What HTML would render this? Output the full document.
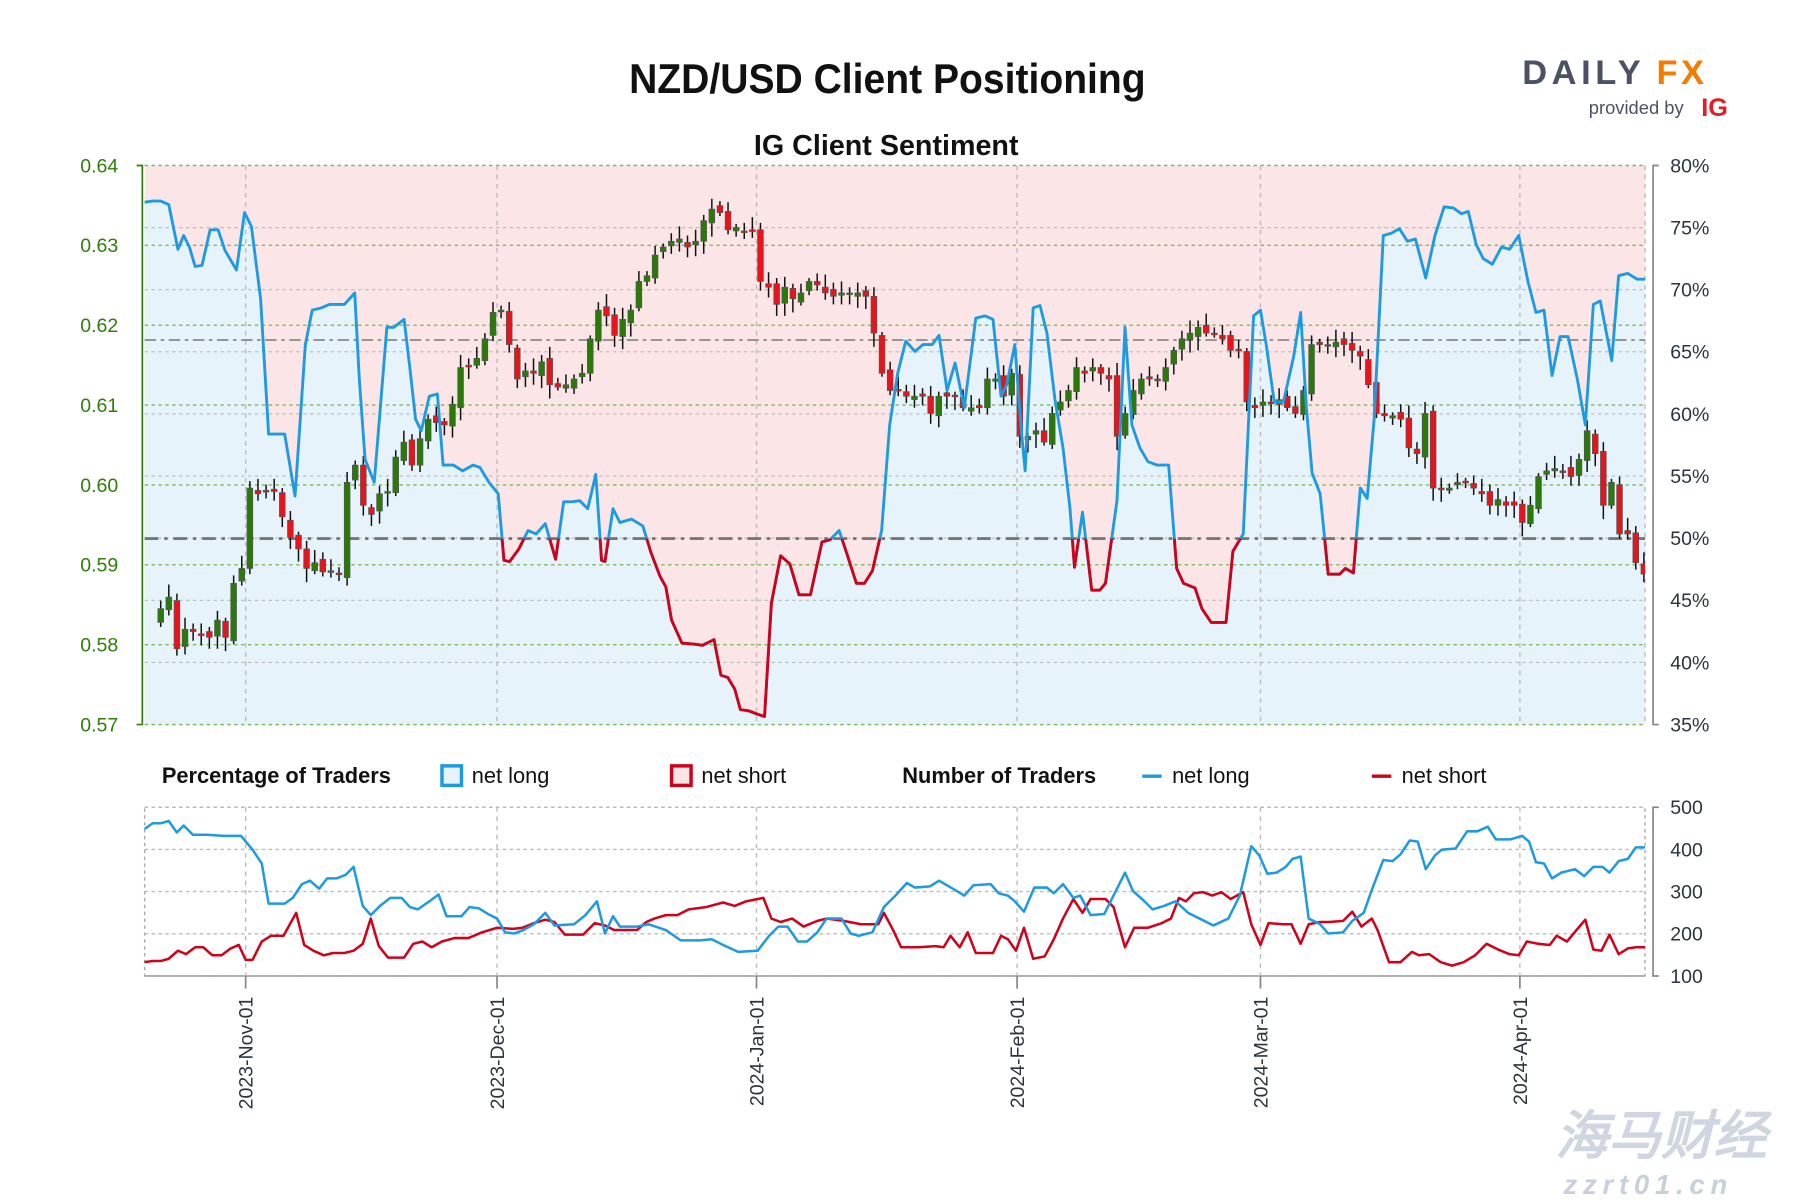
<!DOCTYPE html>
<html><head><meta charset="utf-8"><style>
html,body{margin:0;padding:0;background:#fff;}
svg{display:block;font-family:"Liberation Sans",sans-serif;}
</style></head><body>
<svg id="s" width="1800" height="1200" viewBox="0 0 1568 1045" xmlns="http://www.w3.org/2000/svg">
<defs>
<clipPath id="pc"><rect x="126" y="144" width="1307" height="487"/></clipPath>
<clipPath id="below"><rect x="126" y="469" width="1307" height="170"/></clipPath>
</defs>
<text x="548" y="81" textLength="450" lengthAdjust="spacingAndGlyphs" font-size="36" font-weight="bold" fill="#111" font-family="Liberation Sans Narrow, Liberation Sans, sans-serif">NZD/USD Client Positioning</text>
<text x="772" y="135" text-anchor="middle" font-size="25" font-weight="bold" fill="#111">IG Client Sentiment</text>
<text x="1326" y="73" font-size="30" font-weight="bold" fill="#4a5263" letter-spacing="4">DAILY</text>
<text x="1443" y="73" font-size="30" font-weight="bold" fill="#f57c00" letter-spacing="3">FX</text>
<text x="1384" y="99" font-size="16" fill="#4a5263">provided by</text>
<text x="1482" y="101" font-size="22" font-weight="bold" fill="#e41c23">IG</text>
<g id="main"></g>
<g id="bot"></g>
<text x="1355" y="1005" font-size="46" font-style="italic" font-weight="bold" fill="#c8d0dc" opacity="0.85">海马财经</text>
<text x="1362" y="1040" font-size="24" font-style="italic" font-weight="bold" fill="#c8d0dc" letter-spacing="5">zzrt01.cn</text>
</svg>
<script>
const NS="http://www.w3.org/2000/svg";
function el(p,t,a,txt){const e=document.createElementNS(NS,t);for(const k in a)e.setAttribute(k,a[k]);if(txt!==undefined)e.textContent=txt;p.appendChild(e);return e;}
const M=document.getElementById('main'),B=document.getElementById('bot');
const L=126,R=1433,T=144,BT=631;
el(M,'rect',{x:L,y:T,width:R-L,height:BT-T,fill:'#fbe5e6'});
const S=[[126,176],[133,175],[140,175],[147,178],[155,217],[160,205],[165,215],[170,232],[176,231],[183,200],[190,200],[196,218],[206,235],[213,185],[219,197],[227,260],[234,378],[240,378],[248,378],[257,432],[266,300],[272,270],[280,268],[287,265],[300,265],[309,255],[313,330],[318,400],[326,420],[337,285],[343,285],[352,278],[357,320],[362,365],[367,375],[374,345],[381,343],[386,405],[395,405],[403,410],[412,405],[418,407],[426,420],[434,430],[439,488],[444,489],[452,478],[460,462],[467,465],[475,456],[484,487],[491,437],[498,437],[505,436],[512,443],[519,413],[524,488],[527,489],[534,443],[540,455],[550,452],[560,458],[567,481],[575,502],[580,511],[585,540],[594,560],[605,561],[612,562],[622,557],[628,588],[634,590],[640,600],[645,618],[652,619],[660,622],[666,624],[672,525],[680,484],[688,491],[696,518],[706,518],[716,472],[723,470],[731,462],[738,483],[746,508],[753,508],[760,497],[768,462],[775,370],[782,325],[789,297],[797,306],[804,300],[812,300],[818,292],[825,340],[832,316],[840,355],[850,277],[858,275],[865,278],[872,345],[877,335],[884,300],[890,378],[893,410],[900,268],[906,266],[912,290],[919,348],[926,390],[932,442],[936,494],[943,446],[951,514],[958,514],[963,508],[973,436],[980,285],[986,370],[993,390],[1000,402],[1008,405],[1018,405],[1025,495],[1031,508],[1041,512],[1047,530],[1055,542],[1068,542],[1074,480],[1083,465],[1092,275],[1098,270],[1103,300],[1110,350],[1118,350],[1127,310],[1133,272],[1138,355],[1143,412],[1150,430],[1157,500],[1167,500],[1172,495],[1179,499],[1185,425],[1191,434],[1197,365],[1205,205],[1212,203],[1219,199],[1226,210],[1233,208],[1242,242],[1250,205],[1258,180],[1266,181],[1273,186],[1279,184],[1286,213],[1292,225],[1300,230],[1308,215],[1315,217],[1323,205],[1331,245],[1338,272],[1345,270],[1352,327],[1359,293],[1366,293],[1374,330],[1381,370],[1388,265],[1394,262],[1404,314],[1410,240],[1418,238],[1426,243],[1433,243]];
const pts=S.map(p=>p.join(',')).join(' ');
el(M,'polygon',{points:`${L},${BT} ${pts} ${R},${BT}`,fill:'#e6f3fb'});
for(let p=35;p<=80;p+=5){const y=T+(80-p)/45*(BT-T);el(M,'line',{x1:L,x2:R,y1:y,y2:y,stroke:'#bbb','stroke-width':1,'stroke-dasharray':'3,3'});}
for(let i=0;i<=7;i++){const y=T+i*(BT-T)/7;el(M,'line',{x1:L,x2:R,y1:y,y2:y,stroke:'#7dba5a','stroke-width':1.2,'stroke-dasharray':'3,3'});}
const VX=[214,433,659,886,1098,1324];
VX.forEach(x=>el(M,'line',{x1:x,x2:x,y1:T,y2:BT,stroke:'#bbb','stroke-width':1.2,'stroke-dasharray':'4,4'}));
el(M,'line',{x1:R,x2:R,y1:T,y2:BT,stroke:'#bbb','stroke-width':1.2,'stroke-dasharray':'4,4'});
el(M,'line',{x1:L,x2:R,y1:469,y2:469,stroke:'#777','stroke-width':2.5,'stroke-dasharray':'12,5,3,5'});
el(M,'line',{x1:L,x2:R,y1:296,y2:296,stroke:'#888','stroke-width':1.5,'stroke-dasharray':'10,4,3,4'});
const C=[543,530,520,565,548,550,553,555,540,555,508,495,425,430,427,428,450,468,478,495,490,498,498,500,420,405,440,448,430,428,398,385,405,382,365,368,370,352,320,318,312,295,272,270,300,330,323,325,315,335,337,335,330,325,295,270,275,292,278,270,245,240,222,215,210,208,215,210,192,182,185,200,198,202,200,245,250,265,250,260,255,245,248,255,258,255,255,255,258,290,325,340,340,345,345,345,360,345,345,345,355,355,355,330,330,345,325,380,380,375,385,360,350,340,320,325,320,325,330,380,360,340,330,330,330,320,305,295,290,285,290,290,295,305,305,350,355,350,350,348,355,360,340,300,300,300,298,300,305,310,335,360,362,362,365,390,395,360,425,425,425,420,420,425,430,440,435,440,440,455,440,415,410,408,410,415,400,375,395,440,420,465,465,490,500];
const n=C.length;const cg=el(M,'g',{'clip-path':'url(#pc)'});
for(let i=1;i<n;i++){const x=140+(1432-140)*(i-1)/(n-2);const o=C[i-1]+((i*37)%7-3),c=C[i];
const top=Math.min(o,c),bot=Math.max(o,c);const h=top-3-((i*13)%9),lw=bot+3+((i*11)%10);
el(cg,'line',{x1:x,x2:x,y1:h,y2:lw,stroke:'#111','stroke-width':1.3});
el(cg,'rect',{x:x-2.5,y:top,width:5,height:Math.max(bot-top,1.5),fill:c<o?'#2a7a0a':'#e8141c',stroke:'#555','stroke-width':0.6});}
el(M,'polyline',{points:pts,fill:'none',stroke:'#1e9be0','stroke-width':2.5,'stroke-linejoin':'round'});
el(M,'polyline',{points:pts,fill:'none',stroke:'#d0021b','stroke-width':2.5,'stroke-linejoin':'round','clip-path':'url(#below)'});
el(M,'polyline',{points:`119,144 124,144 124,631 119,631`,fill:'none',stroke:'#2f7d0a','stroke-width':1.5});
el(M,'polyline',{points:`1445,144 1440,144 1440,631 1445,631`,fill:'none',stroke:'#888','stroke-width':1.5});
['0.64','0.63','0.62','0.61','0.60','0.59','0.58','0.57'].forEach((t,i)=>el(M,'text',{x:103,y:T+i*(BT-T)/7+6,'text-anchor':'end','font-size':17,fill:'#2f7d0a'},t));
for(let p=80;p>=35;p-=5){const y=T+(80-p)/45*(BT-T);el(M,'text',{x:1455,y:y+6,'font-size':17,fill:'#2a3440'},p+'%');}
const LY=682;
el(M,'text',{x:141,y:LY,'font-size':19,'font-weight':'bold',fill:'#111','font-family':'Liberation Sans Narrow, Liberation Sans, sans-serif'},'Percentage of Traders');
el(M,'rect',{x:385,y:667,width:17,height:17,fill:'#e6f3fb',stroke:'#1e9be0','stroke-width':3});
el(M,'text',{x:411,y:LY,'font-size':19,fill:'#111'},'net long');
el(M,'rect',{x:585,y:667,width:17,height:17,fill:'#fbe5e6',stroke:'#d0021b','stroke-width':3});
el(M,'text',{x:611,y:LY,'font-size':19,fill:'#111'},'net short');
el(M,'text',{x:786,y:LY,'font-size':19,'font-weight':'bold',fill:'#111','font-family':'Liberation Sans Narrow, Liberation Sans, sans-serif'},'Number of Traders');
el(M,'line',{x1:995,x2:1012,y1:676,y2:676,stroke:'#1e9be0','stroke-width':3});
el(M,'text',{x:1021,y:LY,'font-size':19,fill:'#111'},'net long');
el(M,'line',{x1:1195,x2:1212,y1:676,y2:676,stroke:'#d0021b','stroke-width':3});
el(M,'text',{x:1221,y:LY,'font-size':19,fill:'#111'},'net short');
const BY0=703,BY1=850;
el(B,'rect',{x:L,y:BY0,width:R-L,height:BY1-BY0,fill:'none',stroke:'#aaa','stroke-width':1.2,'stroke-dasharray':'3,3'});
for(let v=500;v>=100;v-=100){const y=BY0+(500-v)/400*(BY1-BY0);el(B,'line',{x1:L,x2:R,y1:y,y2:y,stroke:'#bbb','stroke-width':1.2,'stroke-dasharray':'3,3'});
el(B,'text',{x:1455,y:y+6,'font-size':17,fill:'#2a3440'},v);}
el(B,'line',{x1:L,x2:R,y1:BY1,y2:BY1,stroke:'#aaa','stroke-width':1.5});
el(B,'polyline',{points:`1445,703 1440,703 1440,850 1445,850`,fill:'none',stroke:'#888','stroke-width':1.5});
VX.forEach(x=>{el(B,'line',{x1:x,x2:x,y1:BY0,y2:BY1,stroke:'#bbb','stroke-width':1.2,'stroke-dasharray':'4,4'});
el(B,'line',{x1:x,x2:x,y1:BY1,y2:861,stroke:'#888','stroke-width':1.5});});
const BL=[[126,722],[133,717],[140,717],[147,715],[154,725],[160,719],[168,727],[180,727],[195,728],[210,728],[220,740],[228,752],[234,787],[248,787],[255,782],[263,770],[270,767],[278,774],[285,765],[293,765],[301,762],[308,755],[316,789],[323,797],[331,789],[340,782],[350,782],[357,790],[364,792],[374,785],[382,779],[389,798],[402,798],[409,790],[417,791],[425,796],[433,800],[440,812],[448,813],[456,810],[465,805],[475,795],[483,806],[500,805],[510,797],[520,785],[527,813],[534,798],[540,807],[555,807],[565,805],[580,810],[593,819],[610,819],[620,818],[630,823],[643,829],[660,828],[670,815],[678,807],[686,807],[695,820],[703,820],[712,812],[720,800],[733,800],[741,813],[748,815],[760,812],[770,790],[780,780],[790,769],[797,773],[810,772],[818,767],[830,774],[840,780],[848,771],[863,770],[870,778],[878,780],[884,785],[892,794],[901,773],[912,773],[918,778],[926,770],[935,782],[941,780],[950,797],[962,796],[970,780],[980,760],[987,776],[997,785],[1004,792],[1014,789],[1024,785],[1035,795],[1045,800],[1057,806],[1070,800],[1080,780],[1090,737],[1097,745],[1104,761],[1112,760],[1120,755],[1126,748],[1133,746],[1140,800],[1150,805],[1157,813],[1170,812],[1178,802],[1188,795],[1195,775],[1205,749],[1213,750],[1220,744],[1228,732],[1235,733],[1242,757],[1250,745],[1256,740],[1268,739],[1278,724],[1287,724],[1296,720],[1303,731],[1316,731],[1326,728],[1332,733],[1338,751],[1345,752],[1352,765],[1360,760],[1372,757],[1380,763],[1388,755],[1396,755],[1402,760],[1410,750],[1418,748],[1425,738],[1433,738]];
const RD=[[126,838],[133,837],[140,837],[147,835],[155,828],[162,831],[170,825],[177,825],[185,832],[193,832],[201,826],[208,823],[214,836],[220,836],[228,820],[236,815],[247,815],[258,795],[265,823],[273,828],[282,832],[290,830],[300,830],[308,828],[316,822],[323,800],[330,824],[338,834],[352,834],[360,822],[368,820],[376,825],[385,820],[396,817],[408,817],[420,812],[433,808],[447,809],[455,808],[465,804],[475,801],[483,803],[492,814],[508,814],[518,804],[527,806],[535,810],[555,810],[563,803],[570,800],[580,797],[590,797],[600,792],[615,790],[630,786],[640,789],[650,785],[665,782],[672,800],[680,803],[690,800],[700,807],[712,802],[720,800],[735,802],[750,805],[765,805],[770,795],[778,810],[785,825],[800,825],[815,824],[822,825],[828,815],[836,825],[843,812],[850,830],[865,830],[872,815],[878,818],[885,828],[892,808],[900,835],[910,833],[918,818],[926,800],[935,783],[943,795],[950,783],[963,783],[970,790],[980,825],[988,808],[1000,808],[1012,804],[1020,800],[1027,782],[1033,785],[1040,778],[1048,777],[1056,780],[1064,777],[1072,783],[1083,777],[1090,805],[1098,823],[1105,804],[1118,805],[1125,805],[1133,822],[1140,805],[1150,803],[1158,803],[1170,802],[1178,794],[1186,807],[1195,800],[1200,810],[1210,838],[1220,838],[1230,829],[1236,832],[1245,831],[1255,838],[1265,841],[1275,838],[1285,832],[1295,822],[1305,827],[1315,831],[1323,832],[1330,820],[1340,822],[1350,823],[1356,815],[1365,820],[1375,808],[1381,801],[1388,827],[1395,828],[1402,814],[1410,831],[1418,826],[1425,825],[1433,825]];
el(B,'polyline',{points:RD.map(p=>p.join(',')).join(' '),fill:'none',stroke:'#d0021b','stroke-width':2.2,'stroke-linejoin':'round'});
el(B,'polyline',{points:BL.map(p=>p.join(',')).join(' '),fill:'none',stroke:'#1e9be0','stroke-width':2.2,'stroke-linejoin':'round'});
const D=['2023-Nov-01','2023-Dec-01','2024-Jan-01','2024-Feb-01','2024-Mar-01','2024-Apr-01'];
VX.forEach((x,i)=>el(B,'text',{x:x+6,y:868,'font-size':17,fill:'#2a3440','text-anchor':'end',transform:`rotate(-90 ${x+6} 868)`},D[i]));
</script>
</body></html>
